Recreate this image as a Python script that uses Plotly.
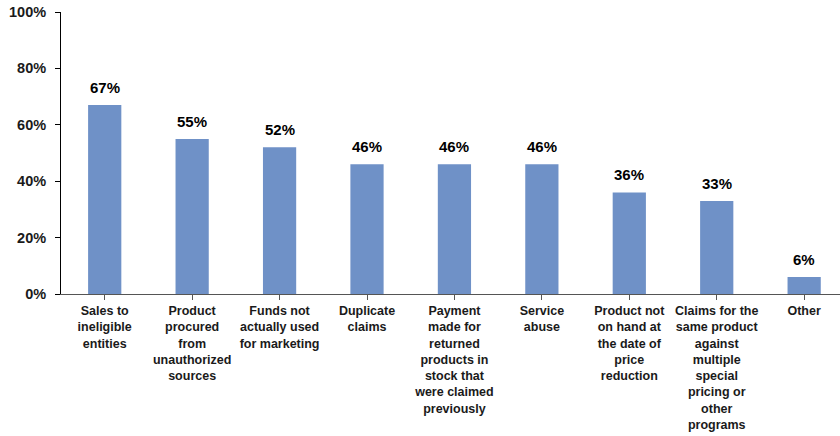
import plotly.graph_objects as go

categories = [
    "Sales to<br>ineligible<br>entities",
    "Product<br>procured<br>from<br>unauthorized<br>sources",
    "Funds not<br>actually used<br>for marketing",
    "Duplicate<br>claims",
    "Payment<br>made for<br>returned<br>products in<br>stock that<br>were claimed<br>previously",
    "Service<br>abuse",
    "Product not<br>on hand at<br>the date of<br>price<br>reduction",
    "Claims for the<br>same product<br>against<br>multiple<br>special<br>pricing or<br>other<br>programs",
    "Other",
]
values = [67, 55, 52, 46, 46, 46, 36, 33, 6]
y_ticks = [0, 20, 40, 60, 80, 100]
y_tick_labels = ["0%", "20%", "40%", "60%", "80%", "100%"]

FONT = "Arial, 'Liberation Sans', sans-serif"
x_idx = list(range(len(categories)))

fig = go.Figure()
fig.add_trace(go.Bar(
    x=x_idx, y=values,
    marker=dict(color="#6F91C7", line=dict(width=0)),
    width=0.38,
    hoverinfo="skip",
))

for i, v in zip(x_idx, values):
    fig.add_annotation(x=i, y=v, text=f"<b>{v}%</b>", showarrow=False,
                       yanchor="bottom", yshift=7,
                       font=dict(family=FONT, size=15, color="#000000"))

fig.update_layout(
    width=840, height=436,
    margin=dict(l=61, r=0, t=12, b=142),
    paper_bgcolor="white", plot_bgcolor="white",
    showlegend=False,
)
fig.update_xaxes(
    tickmode="array", tickvals=x_idx,
    ticktext=[f"<b>{c}</b>" for c in categories],
    range=[-0.5, 8.41],
    showline=True, linecolor="#555555", linewidth=1,
    ticks="outside", ticklen=5, tickcolor="#555555",
    showgrid=False, zeroline=False,
    tickfont=dict(family=FONT, size=12.5, color="#1a1a1a"),
    tickangle=0, automargin=False,
)
fig.update_yaxes(
    range=[0, 100],
    tickvals=y_ticks,
    ticktext=[f"<b>{t}</b>" for t in y_tick_labels],
    showline=True, linecolor="#000000", linewidth=1,
    ticks="outside", ticklen=5, tickcolor="#000000",
    showgrid=False, zeroline=False,
    tickfont=dict(family=FONT, size=14.5, color="#1a1a1a"),
    ticklabelstandoff=6, automargin=False,
    ticklabeloverflow="allow",
)

fig.write_html("out.html", config={"displayModeBar": False},
               post_script="document.body.style.margin='0px';")
